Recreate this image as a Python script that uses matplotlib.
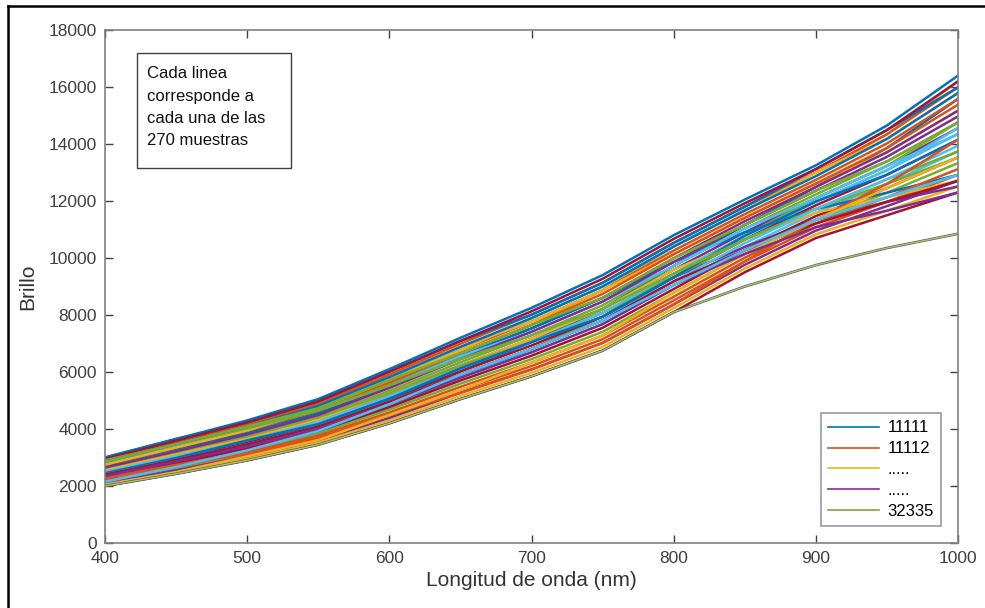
import matplotlib
matplotlib.use('Agg')
import matplotlib.pyplot as plt
from matplotlib.lines import Line2D
from matplotlib.patches import Rectangle

plt.rcParams['font.family'] = ['Liberation Sans', 'DejaVu Sans']

# Longitudes de onda (nm)
longitud_onda = [400, 450, 500, 550, 600, 650, 700, 750, 800, 850, 900, 950, 1000]

# Brillo de las muestras, leido a ojo de la figura (de abajo a arriba de la banda)
muestras_bajas = [
    [2000, 2430, 2900, 3450, 4200, 5050, 5850, 6750, 8100, 9500, 10700, 11500, 12300],
    [2050, 2490, 2970, 3530, 4300, 5160, 5970, 6880, 8240, 9630, 10830, 11660, 12510],
    [2100, 2550, 3040, 3610, 4390, 5270, 6090, 7020, 8370, 9760, 10960, 11820, 12710],
    [2150, 2610, 3110, 3690, 4490, 5370, 6210, 7150, 8510, 9880, 11080, 11970, 12920],
    [2200, 2670, 3180, 3770, 4580, 5480, 6330, 7280, 8640, 10010, 11210, 12130, 13120],
    [2250, 2740, 3250, 3850, 4680, 5590, 6450, 7410, 8780, 10140, 11340, 12290, 13330],
    [2300, 2800, 3320, 3930, 4770, 5700, 6570, 7550, 8910, 10270, 11470, 12450, 13530],
]
muestras_medias = [
    [2350, 2860, 3390, 4010, 4870, 5800, 6690, 7680, 9050, 10390, 11590, 12600, 13740],
    [2400, 2920, 3460, 4090, 4960, 5910, 6810, 7810, 9180, 10520, 11720, 12760, 13940],
    [2450, 2980, 3530, 4170, 5060, 6020, 6930, 7940, 9320, 10650, 11850, 12920, 14150],
    [2500, 3040, 3600, 4250, 5150, 6130, 7050, 8080, 9450, 10780, 11980, 13080, 14350],
    [2550, 3100, 3670, 4330, 5250, 6230, 7170, 8210, 9590, 10900, 12100, 13230, 14560],
    [2600, 3160, 3740, 4410, 5340, 6340, 7290, 8340, 9720, 11030, 12230, 13390, 14760],
    [2650, 3220, 3810, 4490, 5440, 6450, 7410, 8470, 9860, 11160, 12360, 13550, 14970],
]
muestras_altas = [
    [2700, 3280, 3880, 4570, 5530, 6560, 7530, 8600, 9990, 11290, 12490, 13710, 15170],
    [2750, 3350, 3950, 4650, 5630, 6660, 7650, 8740, 10130, 11410, 12610, 13860, 15380],
    [2800, 3410, 4020, 4730, 5720, 6770, 7770, 8870, 10260, 11540, 12740, 14020, 15580],
    [2850, 3470, 4090, 4810, 5820, 6880, 7890, 9000, 10400, 11670, 12870, 14180, 15790],
    [2900, 3530, 4160, 4890, 5910, 6990, 8010, 9130, 10530, 11800, 13000, 14340, 15990],
    [2950, 3590, 4230, 4970, 6010, 7090, 8130, 9270, 10670, 11920, 13120, 14490, 16200],
    [3000, 3650, 4300, 5050, 6100, 7200, 8250, 9400, 10800, 12050, 13250, 14650, 16400],
]
# Muestras que se cruzan con las demas o se juntan abajo al final
muestras_cruzadas_a = [
    [2900, 3470, 4020, 4650, 5530, 6450, 7290, 8210, 9450, 10650, 11720, 12600, 13530],
    [2200, 2740, 3320, 4010, 4960, 6020, 7050, 8210, 9720, 11160, 12490, 13860, 15580],
    [2550, 3100, 3670, 4330, 5250, 6230, 7170, 8210, 9590, 10650, 11590, 12130, 12710],
    [2350, 2860, 3390, 4010, 4870, 5800, 6690, 7680, 9050, 10140, 11080, 11660, 12300],
    [2700, 3280, 3880, 4570, 5530, 6560, 7530, 8600, 9860, 10900, 11720, 12290, 12920],
    [2300, 2740, 3180, 3690, 4490, 5270, 6090, 7020, 8370, 9880, 11340, 12600, 14150],
    [2600, 3160, 3810, 4490, 5530, 6660, 7650, 8870, 10400, 11670, 13000, 14340, 16200],
    [2450, 2980, 3600, 4170, 5060, 6130, 7050, 7940, 9320, 10780, 11980, 12920, 14150],
    [2800, 3410, 3950, 4650, 5530, 6560, 7410, 8470, 9720, 11030, 12100, 13230, 14350],
    [2050, 2490, 3040, 3610, 4490, 5370, 6330, 7280, 8780, 10140, 11340, 12450, 13530],
]
muestras_cruzadas_b = [
    [2950, 3590, 4160, 4890, 5820, 6880, 7770, 8870, 10130, 11410, 12610, 13710, 15170],
    [2150, 2670, 3250, 3930, 4870, 5910, 6810, 7810, 9050, 10270, 11340, 12130, 12920],
    [2500, 3040, 3600, 4250, 5150, 6130, 7050, 8080, 9320, 10390, 11340, 11970, 12510],
    [2750, 3350, 3950, 4730, 5720, 6770, 7890, 9000, 10400, 11670, 13000, 14180, 15790],
    [2100, 2610, 3180, 3850, 4770, 5800, 6810, 7940, 9450, 10780, 12100, 13230, 14760],
    [2650, 3220, 3740, 4410, 5250, 6230, 7050, 8080, 9320, 10650, 11720, 12760, 13740],
    [2850, 3470, 4090, 4730, 5720, 6660, 7650, 8600, 9990, 11160, 12360, 13390, 14760],
    [2250, 2740, 3320, 3930, 4870, 5800, 6810, 7810, 9320, 10650, 11980, 13080, 14560],
    [2400, 2920, 3460, 4090, 4960, 5910, 6810, 7810, 9180, 10270, 11210, 11970, 12710],
    [3000, 3650, 4230, 4970, 6010, 7090, 8010, 9130, 10530, 11800, 13120, 14490, 15990],
]
# Muestra atipica: se separa por debajo de la banda a partir de ~810 nm
muestra_atipica = [2000, 2430, 2900, 3450, 4200, 5050, 5850, 6750, 8100, 9000, 9750, 10350, 10850]

etiquetas_leyenda = ['11111', '11112', '.....', '.....', '32335']

# colores por defecto de MATLAB
colores = ['#0072BD', '#D95319', '#EDB120', '#7E2F8E', '#77AC30', '#4DBEEE', '#A2142F']

todas = muestras_bajas + muestras_medias + muestras_altas + muestras_cruzadas_a + muestras_cruzadas_b
# orden de dibujo mezclado, para que los colores no salgan por franjas
orden = [20, 3, 27, 11, 35, 7, 0, 22, 16, 31, 14, 5, 38, 9, 25, 18, 1, 33, 12, 29, 6,
         40, 15, 23, 2, 36, 10, 19, 28, 4, 34, 13, 21, 8, 39, 17, 26, 30, 24, 37, 32]

fig = plt.figure(figsize=(9.85, 6.08), dpi=100)
ax = fig.add_axes([105 / 985, 65 / 608, 853 / 985, 513 / 608])

lineas = []
for i, idx in enumerate(orden):
    l, = ax.plot(longitud_onda, todas[idx], color=colores[i % 7], linewidth=1.8)
    lineas.append(l)
ax.plot(longitud_onda, muestra_atipica, color=colores[0], linewidth=1.9)
ax.plot(longitud_onda, muestra_atipica, color=colores[2], linewidth=1.0)

ax.set_xlim(400, 1000)
ax.set_ylim(0, 18000)
ax.set_xticks(range(400, 1001, 100))
ax.set_yticks(range(0, 18001, 2000))

for s in ax.spines.values():
    s.set_color('#808080')
    s.set_linewidth(1.2)
ax.tick_params(direction='in', length=6, width=1, color='#404040',
               top=True, right=True, labelsize=12.5, labelcolor='#404040', pad=6)

ax.set_xlabel('Longitud de onda (nm)', fontsize=15, color='#333333', labelpad=3)
ax.set_ylabel('Brillo', fontsize=15, color='#333333', labelpad=8)

# cuadro de texto
ax.add_patch(Rectangle((0.0375, 0.731), 0.181, 0.224, transform=ax.transAxes,
                       facecolor='white', edgecolor='#404040', linewidth=1, zorder=5))
ax.text(0.049, 0.929, 'Cada linea\ncorresponde a\ncada una de las\n270 muestras',
        transform=ax.transAxes, fontsize=12, va='top', ha='left', linespacing=1.6,
        color='#111111', zorder=6)

leg = ax.legend(lineas[:5], etiquetas_leyenda, loc='lower right', fontsize=12,
                frameon=True, fancybox=False, edgecolor='#808080', handlelength=3.05,
                borderaxespad=1.0, labelspacing=0.35, handletextpad=0.5, borderpad=0.45)
leg.get_frame().set_linewidth(1.2)
for h in leg.legend_handles:
    h.set_linewidth(1.2)

# marco negro de la captura
fig.add_artist(Line2D([8 / 985, 8 / 985], [0, 1 - 6 / 608], transform=fig.transFigure,
                      color='black', linewidth=1.8))
fig.add_artist(Line2D([8 / 985, 1], [1 - 6 / 608, 1 - 6 / 608], transform=fig.transFigure,
                      color='black', linewidth=1.8))

fig.savefig('out.png', dpi=100)
